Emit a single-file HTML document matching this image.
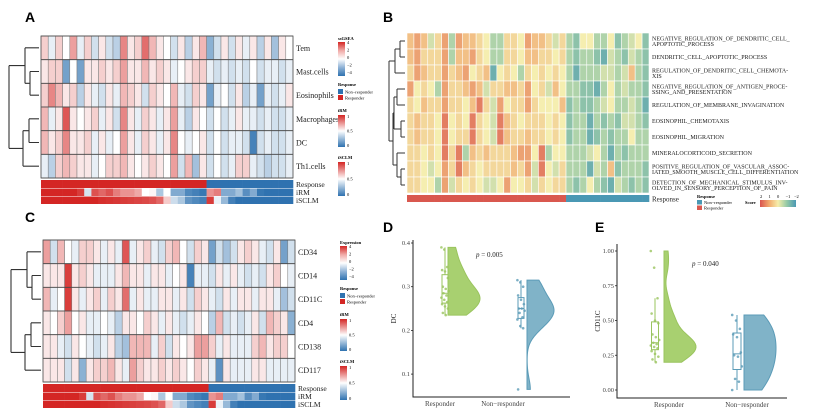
<!DOCTYPE html>
<html><head><meta charset="utf-8">
<style>
html,body{margin:0;padding:0;background:#fff;}
svg{display:block;font-family:"Liberation Serif",serif;}
.pl{font-family:"Liberation Sans",sans-serif;font-weight:bold;font-size:14px;}
</style></head>
<body>
<svg id="fig" width="829" height="414" viewBox="0 0 829 414"></svg>
<script>
// ---------- DATA ----------
const nResp = 23;
const rowsA = ["Tem","Mast.cells","Eosinophils","Macrophages","DC","Th1.cells"];
const valsA = [
[1,-0.5,1,0,2,-0.5,1,-1,0.5,-1,-1.5,2.5,0.5,1,3,1.5,0.5,0,-1,0.5,-1.5,0.5,1.5,-2.5,-1,0.5,-1,0.5,-0.5,0.5,-1.5,0.5,-2,0.5,0],
[0.5,1,1,-3,0,-3,0.5,0.5,1,0.5,1,2,0.5,0.5,1.5,0.5,1,0.5,-0.5,0,0.5,1,1,-0.5,-1,-0.5,-1,-0.5,-1,0,-1,-0.5,-0.5,-1,-0.5],
[1,2.5,1.5,0.5,1,-1.5,0.5,-0.5,-1,0.5,-0.5,1.5,1,0.5,-1,1,0.5,0,1.5,-0.5,-1,1,0.5,-3,-0.5,0,-1,0.5,-1.5,-0.5,-3,-0.5,-1,-0.5,0.5],
[1.5,-0.5,0.5,3.5,0.5,0,0.5,1,-0.5,0.5,-1,2.5,0.5,-0.5,1,0.5,-0.5,0.5,2,-0.5,-1.5,0.5,0,-1,0,-1,-0.5,0.5,-0.5,-0.5,-1,-0.5,-1,-1,-0.5],
[1.5,0.5,1,2.5,0.5,0.5,1,-0.5,0.5,-0.5,0,2,0.5,-0.5,1,0.5,-0.5,0.5,2.5,0,-0.5,0,0.5,-1,0,-1,-0.5,-0.5,-1,-4,-1,-0.5,-1,-1,-0.5],
[-0.5,-1.5,1,1.5,1,0.5,0.5,-0.5,0,1,1,1.5,0.5,0,0.5,1,0.5,0,2,-1,1.5,-2,0.5,-1,0,-1,-0.5,1,1,-0.5,-1,-1.5,-1,-1,-0.5]];
const iRM = [1,1,1,1,1,0.95,0.4,0.9,0.85,0.9,0.8,0.75,0.75,0.7,0.5,0.52,0.3,0.5,0.2,0.2,0.08,0.05,0.02,0.75,0.8,0.2,0.2,0.28,0.1,0.2,0.02,0,0,0,0];
const iSCLM = [1,1,1,1,1,1,1,1,0.98,0.97,0.96,0.95,0.94,0.93,0.92,0.9,0.85,0.62,0.38,0.3,0.12,0.08,0.05,0.95,0.45,0.25,0.05,0,0,0,0,0,0,0,0];
const rowsC = ["CD34","CD14","CD11C","CD4","CD138","CD117"];
const valsC = [
[2,-1,1.5,0,-0.5,1,1,0.5,-0.5,0.5,-0.5,3.5,-0.5,0.5,1,-0.5,-1,1,1.5,0,-1,1,0.5,-3,-1,-2,-1,0.5,1,0.5,-0.5,-1,0.5,-3,-1],
[0.5,0.5,0.5,4,0.5,1,0.5,-0.5,-0.5,-0.5,0.5,1.5,0.5,0.5,-0.5,0.5,0.5,-0.5,0,0.5,-4,-0.5,-0.5,-1,0.5,-0.5,0.5,-0.5,-1,-0.5,-1,0.5,1,0,-0.5],
[1.5,-0.5,0,4,0.5,-0.5,0.5,1,-0.5,1,0.5,3,-0.5,0.5,-0.5,-0.5,0.5,0.5,-0.5,0.5,-1,1,0.5,-0.5,-1,0.5,-0.5,0.5,0.5,-0.5,0.5,0.5,-0.5,-2,-1],
[0.5,0,1,2,0,0.5,-0.5,-0.5,0,-0.5,-1.5,0.5,0.5,0,1,0.5,-0.5,0.5,-0.5,-1,-0.5,0.5,0,-1.5,1.5,-1,-0.5,-1,-0.5,0.5,-1,1.5,1,0.5,-2.5],
[0.5,0.5,-0.5,-1,0.5,0,-0.5,-1,-0.5,0.5,-1.5,-2,1.5,1.5,1.5,-0.5,1,-1,0.5,0,0.5,2,2,1,-0.5,0.5,-0.5,-0.5,-0.5,1,1.5,0.5,1,1,0],
[0.5,0.5,0.5,-1,0.5,-2.5,0.5,1,1,1.5,0.5,-0.5,2,1,0.5,0.5,1,0.5,1,0.5,0,1,0.5,-0.5,-3.5,0.5,-0.5,-0.5,-0.5,0.5,0.5,-0.5,-0.5,-0.5,-0.5]];
const rowsB = [["NEGATIVE_REGULATION_OF_DENDRITIC_CELL_","APOPTOTIC_PROCESS"],["DENDRITIC_CELL_APOPTOTIC_PROCESS"],["REGULATION_OF_DENDRITIC_CELL_CHEMOTA-","XIS"],["NEGATIVE_REGULATION_OF_ANTIGEN_PROCE-","SSING_AND_PRESENTATION"],["REGULATION_OF_MEMBRANE_INVAGINATION"],["EOSINOPHIL_CHEMOTAXIS"],["EOSINOPHIL_MIGRATION"],["MINERALOCORTICOID_SECRETION"],["POSITIVE_REGULATION_OF_VASCULAR_ASSOC-","IATED_SMOOTH_MUSCLE_CELL_DIFFERENTIATION"],["DETECTION_OF_MECHANICAL_STIMULUS_INV-","OLVED_IN_SENSORY_PERCEPTION_OF_PAIN"]];
const valsB = [
[1,1.5,1,-0.5,0.5,1.5,-1,1.5,1,1,0.5,0,-1,-1,0.5,0.5,0,1.5,1,1,0.5,-0.5,0.5,-1,-1.5,0,0,-1,-1,0,-1.5,-1,-0.5,0,-1.5],
[1,1.5,0.5,0.5,0.5,1.5,-1,1,1,1.5,0.5,0,-1,-1,0.5,0.5,0,1,1,0.5,0.5,0,0.5,-1,-1.5,-1,-1,-1.5,-2,-0.5,-1,-1.5,-0.5,-1,-1.5],
[0.5,1.5,1,0.5,0.5,1.5,0.5,1,1.5,0,0.5,1,-2,0,0.5,0,-1,0.5,0,0.5,0,0.5,0,-1,-2,-1,-1,-1,-0.5,-0.5,-1,-0.5,1,-1,-1.5],
[1.5,0,0.5,0,-1,1.5,0.5,0.5,1,1.5,1,-0.5,0.5,0.5,1,1,0.5,1.5,0,0.5,-0.5,1,0,-1,-1,-1.5,-1.5,-2,-1,0,-1,-0.5,-1,-1,-1.5],
[0.5,0,1,0.5,0.5,1.5,0.5,0.5,0,1,2,0.5,-0.5,1.5,0,0.5,0.5,1.5,0.5,0,0,0,1,-1.5,-1,-1.5,-1.5,-1,-0.5,0,-1,-1,-0.5,-1,-2],
[0.5,1,0.5,0.5,0,2,0,0.5,0,2,0.5,0,-0.5,2,1,0.5,0,0.5,0.5,0.5,0,0.5,0,-1.5,-1,-1,-2,-1,-1.5,-1,-1.5,-0.5,-0.5,-1,-1.5],
[0.5,1,0.5,0.5,0,2,0,0.5,0.5,2,0.5,0,-0.5,2,1,0.5,0.5,1,0.5,0.5,0,0.5,0,-1.5,-1,-1,-2,-1.5,-1,-1.5,-1,-1,0,-1,-1],
[0.5,0.5,0,0.5,0,2,0.5,2,-1,1,0.5,1,0.5,0.5,0.5,1,1.5,1.5,0,2,-1,0,0,-1,-1,-1,-0.5,0,-1,-2,-1,-1.5,-1,-1,-1],
[0.5,0.5,0,-0.5,0,1.5,0.5,2,1,0.5,0,0.5,0.5,0.5,0.5,1,0.5,1.5,-0.5,2,0,-0.5,0.5,-1,-1,-1,-2,-0.5,-1,1,-1.5,-1,-1,-1,-1.5],
[0.5,0.5,0,0,-1,1.5,-0.5,0.5,0,0.5,0,-0.5,-0.5,0,1.5,0,0,0.5,-0.5,0.5,0,0.5,0.5,-1,-1.5,-1,0,-1,-1.5,-2,-0.5,-1,-1.5,-1,-1.5]];
const dResp = [0.39,0.385,0.345,0.338,0.335,0.32,0.30,0.295,0.29,0.285,0.28,0.275,0.27,0.265,0.26,0.255,0.25,0.24,0.235];
const dNon = [0.315,0.31,0.30,0.28,0.27,0.26,0.25,0.25,0.245,0.24,0.23,0.225,0.21,0.205,0.065];
const eResp = [1.0,0.88,0.66,0.55,0.5,0.48,0.4,0.38,0.36,0.34,0.33,0.32,0.31,0.3,0.28,0.26,0.24,0.22,0.2];
const eNon = [0.54,0.5,0.44,0.4,0.38,0.27,0.25,0.24,0.17,0.08,0.06,0.0];
const dTicks = [0.1,0.2,0.3,0.4];
const eTicks = [0,0.25,0.5,0.75,1.0];
const eTickLabels = ["0.00","0.25","0.50","0.75","1.00"];

// ---------- HELPERS ----------
const NS="http://www.w3.org/2000/svg";
const svg=document.getElementById('fig');
function mk(tag,a,p){const e=document.createElementNS(NS,tag);for(const k in a)e.setAttribute(k,a[k]);(p||svg).appendChild(e);return e;}
function txt(s,a,p){const e=mk('text',a,p);e.textContent=s;return e;}
function hex(c){return [parseInt(c.slice(1,3),16),parseInt(c.slice(3,5),16),parseInt(c.slice(5,7),16)];}
function lerp(c1,c2,t){const a=hex(c1),b=hex(c2);return 'rgb('+a.map((v,i)=>Math.round(v+(b[i]-v)*t)).join(',')+')';}
function rb(v,m){const t=Math.max(-1,Math.min(1,v/m));return t>=0?lerp('#ffffff','#d42624',t):lerp('#ffffff','#2f72b0',-t);}
function rb01(v){return rb((v-0.5)*2,1);}
const spStops=[[-2,'#4f9cb2'],[-1,'#9dcca8'],[0,'#f5eeb0'],[1,'#f1b47c'],[2,'#d95a50']];
function spec(v){v=Math.max(-2,Math.min(2,v*0.8));for(let i=0;i<4;i++){if(v<=spStops[i+1][0])return lerp(spStops[i][1],spStops[i+1][1],(v-spStops[i][0]));}return spStops[4][1];}
function letter(s,x,y){const t=txt(s,{x:x,y:y,class:'pl'});}

function heatmap(g,x0,y0,w,h,vals,colorFn,stroke,sw){
  const nr=vals.length,nc=vals[0].length,cw=w/nc,rh=h/nr;
  vals.forEach((row,r)=>row.forEach((v,c)=>{
    const rc=mk('rect',{x:x0+c*cw,y:y0+r*rh,width:cw,height:rh,fill:colorFn(v),stroke:stroke,'stroke-width':sw},g);
    
    
  }));
  return {cw,rh};
}
function annot(g,x0,y,w,h,arr,fn){
  const cw=w/arr.length;
  arr.forEach((v,c)=>{const r=mk('rect',{x:x0+c*cw,y:y,width:cw+0.3,height:h,fill:fn(v,c)},g);
    
    });
}
function gradLegend(g,id,x,y,w,h,stops){
  const lg=mk('linearGradient',{id:id,x1:0,y1:0,x2:0,y2:1},defs);
  stops.forEach((s,i)=>mk('stop',{offset:(i/(stops.length-1)),'stop-color':s},lg));
  mk('rect',{x:x,y:y,width:w,height:h,fill:'url(#'+id+')'},g);
}
const defs=mk('defs',{});

// ---------- PANEL A / C ----------
function panelAC(name,ox,oy,rows,vals,legTitle){
  const g=mk('g',{});
  
  
  const x0=ox+41,y0=oy+36,w=252,h=142;
  heatmap(g,x0,y0,w,h,vals,v=>rb(v,4.5),'#7a7a7a',0.5);
  for(let r=0;r<=rows.length;r++)mk('line',{x1:x0,x2:x0+w,y1:y0+r*h/rows.length,y2:y0+r*h/rows.length,stroke:'#444','stroke-width':0.8},g);
  mk('rect',{x:x0,y:y0,width:w,height:h,fill:'none',stroke:'#555','stroke-width':0.8},g);
  const rh=h/rows.length;
  rows.forEach((s,i)=>{const t=txt(s,{x:x0+w+3,y:y0+rh*i+rh/2+3,'font-size':8,fill:'#222'},g);
    });
  const ay=y0+h+2;
  annot(g,x0,ay,w,8,vals[0].map((v,i)=>i<nResp?1:0),v=>v?'#d42624':'#2f72b0');
  annot(g,x0,ay+8.5,w,7.5,iRM,v=>rb01(v));
  annot(g,x0,ay+16.5,w,7.5,iSCLM,v=>rb01(v));
  [["Response",ay+7],["iRM",ay+15],["iSCLM",ay+23]].forEach(a=>{const t=txt(a[0],{x:x0+w+3,y:a[1],'font-size':7.5,fill:'#222'},g);
    });
  const c=i=>y0+rh*i+rh/2, L=x0-2;
  const d=mk('path',{fill:'none',stroke:'#333','stroke-width':1.1,
    d:`M${L},${c(1)}H${L-9}M${L},${c(2)}H${L-9}M${L-9},${c(1)}V${c(2)}M${L},${c(0)}H${L-14}M${L-9},${(c(1)+c(2))/2}H${L-14}M${L-14},${c(0)}V${(c(1)+c(2))/2}`+
      `M${L},${c(3)}H${L-10}M${L},${c(4)}H${L-10}M${L-10},${c(3)}V${c(4)}M${L},${c(5)}H${L-16}M${L-10},${(c(3)+c(4))/2}H${L-16}M${L-16},${(c(3)+c(4))/2}V${c(5)}`+
      `M${L-14},${(c(0)+(c(1)+c(2))/2)/2}H${L-30}M${L-16},${((c(3)+c(4))/2+c(5))/2}H${L-30}M${L-30},${(c(0)+(c(1)+c(2))/2)/2}V${((c(3)+c(4))/2+c(5))/2}`},g);
  
  const lx=ox+338, lg=mk('g',{'font-size':4.5},g);
  
  txt(legTitle,{x:lx,y:oy+40,'font-weight':'bold'},lg);
  gradLegend(lg,name+'g1',lx,oy+42,7,34,['#d42624','#f0a9a6','#ffffff','#8fb2d6','#2f72b0']);
  ['4','2','0','−2','−4'].forEach((s,i)=>txt(s,{x:lx+9,y:oy+44+i*7.5},lg));
  txt('Response',{x:lx,y:oy+86,'font-weight':'bold'},lg);
  mk('rect',{x:lx,y:oy+89,width:5,height:5,fill:'#2f72b0'},lg);txt('Non−responder',{x:lx+7,y:oy+93.5},lg);
  mk('rect',{x:lx,y:oy+95,width:5,height:5,fill:'#d42624'},lg);txt('Responder',{x:lx+7,y:oy+99.5},lg);
  txt('iRM',{x:lx,y:oy+112,'font-weight':'bold'},lg);
  gradLegend(lg,name+'g2',lx,oy+115,7,32,['#d42624','#ffffff','#2f72b0']);
  ['1','0.5','0'].forEach((s,i)=>txt(s,{x:lx+9,y:oy+118+i*14.5},lg));
  txt('iSCLM',{x:lx,y:oy+159,'font-weight':'bold'},lg);
  gradLegend(lg,name+'g3',lx,oy+162,7,34,['#d42624','#ffffff','#2f72b0']);
  ['1','0.5','0'].forEach((s,i)=>txt(s,{x:lx+9,y:oy+165+i*15.5},lg));
}
letter('A',25,22);
panelAC('panel-a-heatmap',0,0,rowsA,valsA,'ssGSEA');
letter('C',25,222);
panelAC('panel-c-heatmap',2,204,rowsC,valsC,'Expression');

// ---------- PANEL B ----------
letter('B',383,22);
(function(){
  const g=mk('g',{});
  const x0=407,y0=33,w=242,h=160,nr=rowsB.length,rh=h/nr;
  heatmap(g,x0,y0,w,h,valsB,spec,'#ffffff',0.6);
  rowsB.forEach((ls,i)=>{const cy=y0+rh*i+rh/2;
    ls.forEach((s,j)=>{const t=txt(s,{x:x0+w+3,y:cy+(ls.length==2?(j==0?-0.5:4.8):2),'font-size':6,fill:'#222'},g);
      });});
  annot(g,x0,y0+h+2,w,7,valsB[0].map((v,i)=>i<nResp?1:0),v=>v?'#d9584f':'#4a98b4');
  const t=txt('Response',{x:x0+w+3,y:y0+h+8.5,'font-size':7,fill:'#222'},g);
  
  const c=i=>y0+rh*i+rh/2, L=x0-2;
  const d=mk('path',{fill:'none',stroke:'#333','stroke-width':1,
    d:`M${L},${c(0)}H${L-5}M${L},${c(1)}H${L-5}M${L-5},${c(0)}V${c(1)}M${L},${c(2)}H${L-10}M${L-5},${(c(0)+c(1))/2}H${L-10}M${L-10},${(c(0)+c(1))/2}V${c(2)}`+
     `M${L},${c(3)}H${L-8}M${L},${c(4)}H${L-8}M${L-8},${c(3)}V${c(4)}M${L},${c(5)}H${L-4}M${L},${c(6)}H${L-4}M${L-4},${c(5)}V${c(6)}M${L-4},${(c(5)+c(6))/2}H${L-11}M${L-8},${(c(3)+c(4))/2}H${L-11}M${L-11},${(c(3)+c(4))/2}V${(c(5)+c(6))/2}`+
     `M${L},${c(8)}H${L-4}M${L},${c(9)}H${L-4}M${L-4},${c(8)}V${c(9)}M${L},${c(7)}H${L-8}M${L-4},${(c(8)+c(9))/2}H${L-8}M${L-8},${c(7)}V${(c(8)+c(9))/2}`+
     `M${L-8},${(c(7)+c(8.5))/2}H${L-12}M${L-11},${(c(3.5)+c(5.5))/2}H${L-12}M${L-12},${(c(3.5)+c(5.5))/2}V${(c(7)+c(8.5))/2}`+
     `M${L-10},${(c(0.5)+c(2))/2}H${L-16}M${L-12},${(c(5)+c(7.5))/2}H${L-16}M${L-16},${(c(0.5)+c(2))/2}V${(c(5)+c(7.5))/2}`},g);
  
  const lg=mk('g',{'font-size':4.5},g);
  txt('Response',{x:697,y:198,'font-weight':'bold'},lg);
  mk('rect',{x:697,y:200,width:5,height:4.5,fill:'#4a98b4'},lg);txt('Non−responder',{x:704,y:204},lg);
  mk('rect',{x:697,y:205.5,width:5,height:4.5,fill:'#d9584f'},lg);txt('Responder',{x:704,y:209.5},lg);
  txt('Score',{x:745,y:204,'font-weight':'bold'},lg);
  const gid='bgrad';const l=mk('linearGradient',{id:gid,x1:0,y1:0,x2:1,y2:0},defs);
  ['#d9534f','#f1a96c','#f6eeab','#93c9a6','#4a98b4'].forEach((s,i)=>mk('stop',{offset:i/4,'stop-color':s},l));
  mk('rect',{x:760,y:200,width:36,height:7,fill:'url(#'+gid+')'},lg);
  ['2','1','0','−1','−2'].forEach((s,i)=>txt(s,{x:760+i*8.5,y:198},lg));
})();

// ---------- RAINCLOUD PANELS ----------
function quant(a,q){const s=[...a].sort((x,y)=>x-y);const p=(s.length-1)*q,i=Math.floor(p);return s[i]+(s[Math.min(i+1,s.length-1)]-s[i])*(p-i);}
function raincloud(g,data,yS,cx,boxW,vx,vw,fill,stroke,bw){
  const mn=Math.min(...data),mx=Math.max(...data);
  const N=60,pts=[];let maxd=0;
  for(let i=0;i<=N;i++){const y=mn+(mx-mn)*i/N;let d=0;data.forEach(v=>{d+=Math.exp(-0.5*((y-v)/bw)**2);});pts.push([y,d]);maxd=Math.max(maxd,d);}
  let p=`M${vx},${yS(mn)}`;pts.forEach(q=>{p+=`L${vx+q[1]/maxd*vw},${yS(q[0])}`;});p+=`L${vx},${yS(mx)}Z`;
  const v=mk('path',{d:p,fill:fill,stroke:stroke,'stroke-width':1},g);
  
  const q1=quant(data,0.25),q2=quant(data,0.5),q3=quant(data,0.75),iq=q3-q1;
  const lo=Math.min(...data.filter(x=>x>=q1-1.5*iq)),hi=Math.max(...data.filter(x=>x<=q3+1.5*iq));
  const b=mk('g',{fill:'#fff',stroke:stroke,'stroke-width':1},g);
  
  mk('line',{x1:cx,x2:cx,y1:yS(hi),y2:yS(q3)},b);mk('line',{x1:cx,x2:cx,y1:yS(lo),y2:yS(q1)},b);
  mk('rect',{x:cx-boxW/2,y:yS(q3),width:boxW,height:yS(q1)-yS(q3)},b);
  mk('line',{x1:cx-boxW/2,x2:cx+boxW/2,y1:yS(q2),y2:yS(q2)},b);
  data.forEach((val,i)=>{const j=((i*37)%11-5)/5*boxW*0.6;
    const c=mk('circle',{cx:cx+j,cy:yS(val),r:1.3,fill:stroke,opacity:0.8},g);
    });
}
function axesPanel(name,x0,x1,yTop,yBot,yS,ticks,tickLabels,ylab,p,pY,groups){
  const g=mk('g',{});
  const ax=mk('path',{d:`M${x0},${yTop}V${yBot}H${x1}`,fill:'none',stroke:'#222','stroke-width':1},g);
  
  ticks.forEach((t,i)=>{mk('line',{x1:x0-2,x2:x0,y1:yS(t),y2:yS(t),stroke:'#222','stroke-width':0.8},g);
    const l=txt(tickLabels[i],{x:x0-3,y:yS(t)+2,'font-size':6.5,'text-anchor':'end',fill:'#444'},g);
    });
  const yl=txt(ylab,{x:0,y:0,'font-size':7,'text-anchor':'middle',fill:'#222',transform:`translate(${x0-17},${(yTop+yBot)/2}) rotate(-90)`},g);
  
  groups.forEach(gr=>{const l=txt(gr[0],{x:gr[1],y:yBot+9,'font-size':7,'text-anchor':'middle',fill:'#444'},g);
    });
  const pt=mk('text',{x:p[0],y:pY,'font-size':7,fill:'#222'},g);
  
  const it=mk('tspan',{'font-style':'italic'},pt);it.textContent='p';
  const t2=mk('tspan',{},pt);t2.textContent='  = '+p[1];
  return g;
}
letter('D',383,232);
(function(){
  const yS=v=>243+(0.4-v)/0.1*43.7;
  const g=axesPanel('panel-d-dc-raincloud',413,570,240,397,yS,dTicks,dTicks.map(String),'DC',[476,'0.005'],257,[['Responder',440],['Non−responder',503]]);
  raincloud(g,dResp,yS,445,6,448,32,'#a8d070','#9ac45e',0.025);
  raincloud(g,dNon,yS,521,6,527,27,'#80b3c8','#5b9bb7',0.025);
})();
letter('E',595,232);
(function(){
  const yS=v=>390-v*139;
  const g=axesPanel('panel-e-cd11c-raincloud',617,787,244,398,yS,eTicks,eTickLabels,'CD11C',[692,'0.040'],266,[['Responder',669],['Non−responder',747]]);
  raincloud(g,eResp,yS,655,7,664,32,'#a8d070','#9ac45e',0.07);
  raincloud(g,eNon,yS,737,8,744,32,'#80b3c8','#5b9bb7',0.12);
})();
</script>
</body></html>
